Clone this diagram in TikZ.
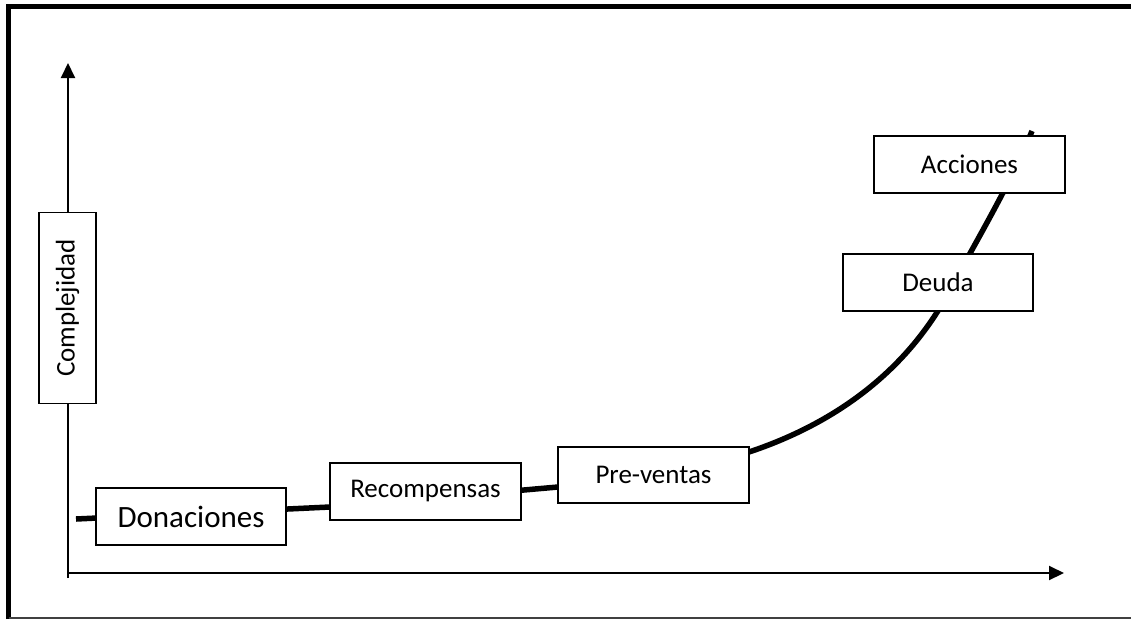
\documentclass[tikz,border=0pt]{standalone}
\usepackage{fontspec}
\setmainfont{Carlito}
\usetikzlibrary{positioning,arrows.meta}

\begin{document}
\begin{tikzpicture}[x=1pt,y=-1pt,
box/.style={draw,fill=white,line width=1.5pt,minimum width=191pt,minimum height=57pt,
inner sep=0pt,font=\fontsize{27}{32}\selectfont},
arr/.style={-{Triangle[length=15pt,width=14pt]},line width=2pt},
curva/.style={line width=5.5pt}]
\useasboundingbox (0,0) rectangle (1131,619);
% marco
\draw[line width=5pt] (8.5,619) -- (8.5,6.5) -- (1131,6.5);
\draw[line width=2pt,black!75] (8.5,617.5) -- (1131,617.5);
% ejes
\coordinate (o) at (68,573);
\coordinate (yfoot) at (68,578);
\coordinate (ytop) at (68,63);
\coordinate (xend) at (1064,573);
\draw[arr] (yfoot) -- (ytop);
\draw[arr] (o) -- (xend);
% curva
\coordinate (c0) at (76,519);
\coordinate (c1) at (330,507);
\coordinate (c2) at (558,487);
\coordinate (c3) at (749,452);
\coordinate (c4) at (950,290);
\coordinate (c5) at (1032,131);
\draw[curva] (c0) -- (c1) -- (c2) -- (c3)
  .. controls (830,425) and (905,375) .. (c4)
  .. controls (975,243) and (1010,185) .. (c5);
% etiquetas
\node[box,rotate=90] (comp) at (67.5,308) {Complejidad};
\node[box,minimum width=190pt,font=\fontsize{31}{36}\selectfont] (don) at (191,516.5) {Donaciones};
\node[box] (rec) at (425.5,491.5) {Recompensas};
\node[box,minimum height=56pt] (pre) at (653.5,475) {Pre-ventas};
\node[box,minimum width=190pt] (deu) at (938,282.5) {Deuda};
\node[box] (acc) at (969.5,164.5) {Acciones};
\end{tikzpicture}
\end{document}
